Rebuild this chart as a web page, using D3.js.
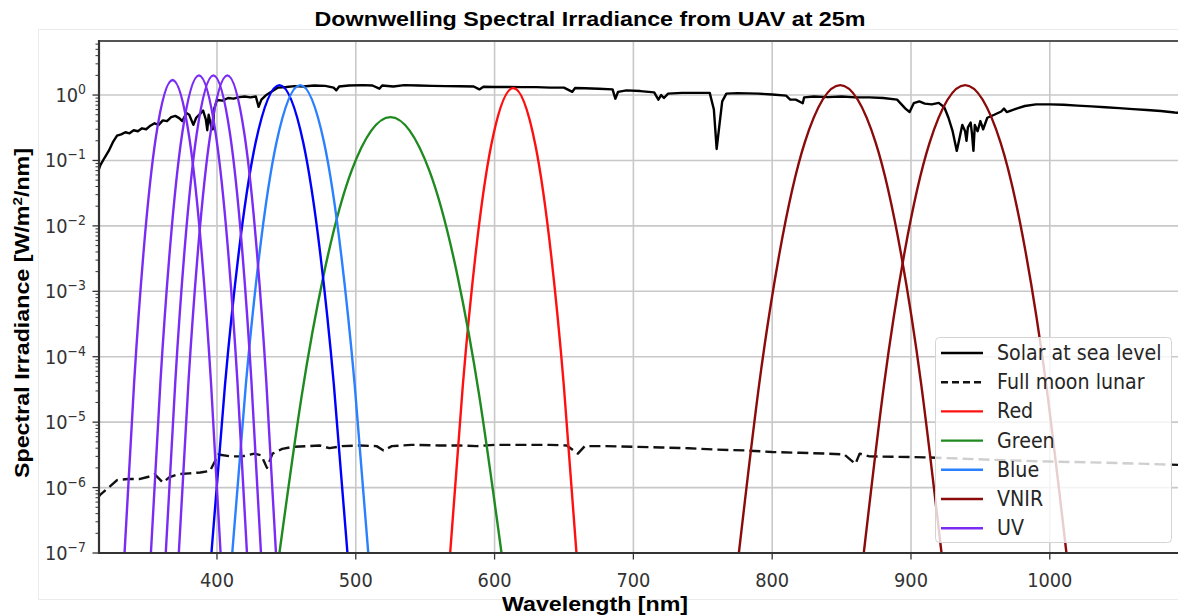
<!DOCTYPE html>
<html>
<head>
<meta charset="utf-8">
<script src="https://cdn.jsdelivr.net/npm/d3@7/dist/d3.min.js"></script>
<style>
	body { margin: 0; background: #fff; }
	svg { display: block; }
</style>
</head>
<body>
<svg id="chart" width="1178" height="615"></svg>
<script>
// wavelength tick values and log decades on the y axis
const xTicks = [400, 500, 600, 700, 800, 900, 1000];
const yDecades = [0, -1, -2, -3, -4, -5, -6, -7];
const legendNames = ["Solar at sea level", "Full moon lunar", "Red", "Green", "Blue", "VNIR", "UV"];

// [wavelength nm, irradiance W/m2/nm]
const solar = [
	[314, 0.065], [316, 0.085], [319, 0.11], [322, 0.14], [325, 0.19], [328, 0.24], [331, 0.25], [334, 0.27],
	[337, 0.26], [340, 0.29], [343, 0.28], [346, 0.31], [349, 0.30], [352, 0.34], [355, 0.37], [358, 0.35],
	[361, 0.41], [364, 0.40], [367, 0.46], [370, 0.48], [373, 0.44], [375, 0.40], [378, 0.53], [380, 0.50],
	[383, 0.35], [385, 0.45], [388, 0.52], [390, 0.58], [392, 0.42], [393, 0.29], [394, 0.50], [396, 0.32],
	[397, 0.30], [398, 0.62], [400, 0.84], [404, 0.82], [408, 0.90], [412, 0.88], [416, 0.93], [420, 0.95],
	[424, 0.92], [428, 0.95], [430, 0.66], [432, 0.85], [435, 0.98], [440, 1.15], [444, 1.30], [450, 1.33],
	[456, 1.37], [462, 1.35], [470, 1.40], [478, 1.38], [484, 1.30], [486, 1.18], [488, 1.35], [495, 1.40],
	[505, 1.42], [512, 1.40], [517, 1.25], [519, 1.40], [527, 1.35], [535, 1.42], [545, 1.40], [555, 1.38],
	[565, 1.37], [575, 1.36], [585, 1.35], [589, 1.22], [592, 1.34], [600, 1.33], [610, 1.33], [620, 1.32],
	[630, 1.32], [640, 1.30], [650, 1.30], [656, 1.12], [658, 1.28], [665, 1.27], [675, 1.25], [685, 1.22],
	[687, 0.88], [689, 1.12], [695, 1.18], [705, 1.15], [715, 1.10], [718, 0.85], [720, 1.00], [722, 0.90],
	[725, 1.05], [735, 1.08], [745, 1.08], [755, 1.08], [758, 0.60], [760, 0.15], [762, 0.35], [764, 0.80],
	[767, 1.05], [775, 1.07], [790, 1.05], [800, 1.02], [810, 0.98], [813, 0.85], [817, 0.85], [822, 0.75],
	[823, 0.92], [830, 0.95], [840, 0.93], [850, 0.95], [860, 0.92], [870, 0.92], [880, 0.90], [890, 0.85],
	[896, 0.62], [899, 0.55], [902, 0.75], [906, 0.80], [910, 0.74], [915, 0.72], [920, 0.76], [924, 0.65],
	[927, 0.45], [930, 0.28], [933, 0.14], [935, 0.22], [937, 0.35], [939, 0.28], [940, 0.20], [941, 0.32],
	[943, 0.38], [944, 0.25], [945, 0.14], [946, 0.35], [948, 0.28], [950, 0.40], [952, 0.30], [955, 0.45],
	[960, 0.50], [965, 0.56], [967, 0.62], [969, 0.55], [972, 0.58], [976, 0.62], [982, 0.68], [990, 0.72],
	[1000, 0.72], [1010, 0.71], [1020, 0.69], [1030, 0.67], [1040, 0.65], [1050, 0.63], [1060, 0.61],
	[1070, 0.59], [1080, 0.57], [1090, 0.54], [1100, 0.52]
];
const lunar = [
	[314, 7.0e-7], [316, 7.8e-7], [322, 1.0e-6], [328, 1.3e-6], [336, 1.35e-6], [344, 1.35e-6], [350, 1.45e-6],
	[355, 1.6e-6], [361, 1.2e-6], [366, 1.45e-6], [372, 1.6e-6], [380, 1.65e-6], [388, 1.7e-6], [395, 1.8e-6],
	[401, 3.2e-6], [410, 3.0e-6], [418, 3.0e-6], [427, 3.3e-6], [432, 3.1e-6], [436, 2.0e-6], [440, 3.3e-6],
	[447, 3.9e-6], [455, 4.2e-6], [465, 4.3e-6], [474, 4.4e-6], [481, 4.0e-6], [490, 4.3e-6], [503, 4.4e-6],
	[515, 4.3e-6], [520, 3.7e-6], [526, 4.3e-6], [540, 4.5e-6], [560, 4.4e-6], [575, 4.4e-6], [587, 4.3e-6],
	[600, 4.5e-6], [620, 4.5e-6], [640, 4.5e-6], [652, 4.4e-6], [660, 3.3e-6], [665, 4.3e-6], [680, 4.3e-6],
	[700, 4.2e-6], [720, 4.1e-6], [740, 4.0e-6], [760, 3.8e-6], [780, 3.7e-6], [800, 3.5e-6], [820, 3.4e-6],
	[840, 3.3e-6], [852, 3.2e-6], [858, 2.5e-6], [860, 2.3e-6], [863, 3.3e-6], [870, 3.0e-6], [890, 2.95e-6],
	[910, 2.9e-6], [930, 2.8e-6], [960, 2.65e-6], [1000, 2.5e-6], [1040, 2.4e-6], [1070, 2.3e-6], [1100, 2.2e-6]
];

// filter response curves
const red = [[568, 1e-7], [577.1, 3.6e-5], [586.2, 3.5e-3], [597.6, 0.172], [613.5, 1.28], [629.4, 0.172], [640.8, 3.5e-3], [649.9, 3.6e-5], [659, 1e-7]];
const green = [[445, 1e-7], [461, 2.5e-5], [477, 1.84e-3], [497, 0.070], [525, 0.46], [553, 0.070], [573, 1.84e-3], [589, 2.5e-5], [605, 1e-7]];
const blueDeep = [[396, 1e-7], [405.8, 3.75e-5], [415.6, 3.77e-3], [427.85, 0.188], [445, 1.42], [462.15, 0.188], [474.4, 3.77e-3], [484.2, 3.75e-5], [494, 1e-7]];
const blue = [[411, 1e-7], [420.8, 3.75e-5], [430.6, 3.77e-3], [442.85, 0.188], [460, 1.42], [477.15, 0.188], [489.4, 3.77e-3], [499.2, 3.75e-5], [509, 1e-7]];
const vnir1 = [[776, 1e-7], [790.6, 3.75e-5], [805.2, 3.77e-3], [823.45, 0.188], [849, 1.42], [874.55, 0.188], [892.8, 3.77e-3], [907.4, 3.75e-5], [922, 1e-7]];
const vnir2 = [[866, 1e-7], [880.6, 3.75e-5], [895.2, 3.77e-3], [913.45, 0.188], [939, 1.42], [964.55, 0.188], [982.8, 3.77e-3], [997.4, 3.75e-5], [1012, 1e-7]];
const uv1 = [[333.4, 1e-7], [340.3, 4.0e-5], [347.2, 4.24e-3], [355.9, 0.221], [368, 1.7], [380.1, 0.221], [388.8, 4.24e-3], [395.7, 4.0e-5], [402.6, 1e-7]];
const uv2 = [[352.4, 1e-7], [359.3, 4.25e-5], [366.2, 4.7e-3], [374.9, 0.255], [387, 2.0], [399.1, 0.255], [407.8, 4.7e-3], [414.7, 4.25e-5], [421.6, 1e-7]];
const uv3 = [[363.1, 1e-7], [370.0, 4.25e-5], [376.8, 4.7e-3], [385.4, 0.255], [397.4, 2.0], [409.4, 0.255], [418.0, 4.7e-3], [424.8, 4.25e-5], [431.7, 1e-7]];
const uv4 = [[372.5, 1e-7], [379.5, 4.25e-5], [386.5, 4.7e-3], [395.25, 0.255], [407.5, 2.0], [419.75, 0.255], [428.5, 4.7e-3], [435.5, 4.25e-5], [442.5, 1e-7]];

const Left = 99, Top = 41, Bottom = 553;
const squeeze = 0.89;  // the reference text is a bit narrow
const colors = {
	solar: "#000", lunar: "#111", red: "#ff1010", green: "#1f8a1f",
	blueDeep: "#0000ff", blue: "#2b80ff", vnir: "#8b0a0a", uv: "#7a2cf5"
};

const chart = d3.select("#chart");
const x = d3.scaleLinear().domain([315, 1100]).range([Left, Left + 785 * 1.388]);
const y = d3.scaleLog().domain([1e-7, 6.7]).range([Bottom, Top]);
const Right = x.range()[1];

// faint frame from the original screenshot
chart.append("rect").attr("x", 38.5).attr("y", 29.5).attr("width", 1200).attr("height", 570)
	.attr("fill", "none").attr("stroke", "#ececec");

// grid lines under everything
const grid = chart.append("g").attr("stroke", "#c8c8c8").attr("stroke-width", 1.6);
grid.selectAll("line.gx").data(xTicks).enter().append("line")
	.attr("x1", d => x(d)).attr("x2", d => x(d)).attr("y1", Top).attr("y2", Bottom);
grid.selectAll("line.gy").data(yDecades).enter().append("line")
	.attr("x1", Left).attr("x2", Right).attr("y1", d => y(Math.pow(10, d))).attr("y2", d => y(Math.pow(10, d)));

chart.append("defs").append("clipPath").attr("id", "plotclip").append("rect")
	.attr("x", Left).attr("y", Top).attr("width", Right - Left).attr("height", Bottom - Top);

const line = d3.line().x(d => x(d[0])).y(d => y(d[1]));
// natural spline keeps the filter bumps round like the originals
const smooth = d3.line().curve(d3.curveNatural).x(d => x(d[0])).y(d => y(d[1]));

// series in drawing order, styles kept apart from the values
const series = [
	{data: solar, color: colors.solar, gen: line, width: 2.4},
	{data: lunar, color: colors.lunar, gen: line, width: 2.4, dash: "11,5"},
	{data: red, color: colors.red, gen: smooth, width: 2.4},
	{data: green, color: colors.green, gen: smooth, width: 2.4},
	{data: blueDeep, color: colors.blueDeep, gen: smooth, width: 2.4},
	{data: blue, color: colors.blue, gen: smooth, width: 2.4},
	{data: vnir1, color: colors.vnir, gen: smooth, width: 2.4},
	{data: vnir2, color: colors.vnir, gen: smooth, width: 2.4},
	{data: uv1, color: colors.uv, gen: smooth, width: 2.4},
	{data: uv2, color: colors.uv, gen: smooth, width: 2.4},
	{data: uv3, color: colors.uv, gen: smooth, width: 2.4},
	{data: uv4, color: colors.uv, gen: smooth, width: 2.4}
];
chart.append("g").attr("clip-path", "url(#plotclip)").selectAll("path").data(series).enter().append("path")
	.attr("d", s => s.gen(s.data)).attr("fill", "none").attr("stroke", s => s.color)
	.attr("stroke-width", s => s.width).attr("stroke-dasharray", s => s.dash || null)
	.attr("stroke-linejoin", "round");

// y axis: major ticks per decade, minor ticks 2..9
const minor = [];
yDecades.forEach(e => { for(let m = 2; m <= 9; m++) if(m * Math.pow(10, e) <= 6.7) minor.push(m * Math.pow(10, e)); });
const yax = chart.append("g").attr("stroke", "#333");
yax.selectAll("line.minor").data(minor).enter().append("line")
	.attr("x1", Left - 3.5).attr("x2", Left).attr("y1", d => y(d)).attr("y2", d => y(d)).attr("stroke-width", 1);
yax.selectAll("line.major").data(yDecades).enter().append("line")
	.attr("x1", Left - 6.5).attr("x2", Left).attr("y1", d => y(Math.pow(10, d))).attr("y2", d => y(Math.pow(10, d))).attr("stroke-width", 1.3);
const ylab = chart.append("g").attr("font-family", "DejaVu Sans").attr("font-size", 20).attr("fill", "#333").attr("text-anchor", "end");
ylab.selectAll("text").data(yDecades).enter().append("text")
	.attr("transform", d => `translate(${Left - 13},${y(Math.pow(10, d)) + 7}) scale(${squeeze},1)`)
	.each(function(d) {
		const t = d3.select(this);
		t.append("tspan").text("10");
		t.append("tspan").attr("dy", -8).attr("font-size", 14).text(d === 0 ? "0" : "\u2212" + (-d));
	});

// x axis ticks and labels
chart.append("g").attr("stroke", "#333").selectAll("line").data(xTicks).enter().append("line")
	.attr("x1", d => x(d)).attr("x2", d => x(d)).attr("y1", Bottom).attr("y2", Bottom + 6.5).attr("stroke-width", 1.3);
chart.append("g").attr("font-family", "DejaVu Sans").attr("font-size", 20).attr("fill", "#333").attr("text-anchor", "middle")
	.selectAll("text").data(xTicks).enter().append("text")
	.attr("transform", d => `translate(${x(d)},${Bottom + 34}) scale(${squeeze},1)`).text(d => d);

// spines
chart.append("line").attr("x1", Left).attr("x2", Right).attr("y1", Top).attr("y2", Top).attr("stroke", "#555").attr("stroke-width", 2);
chart.append("line").attr("x1", Left).attr("x2", Left).attr("y1", Top - 1).attr("y2", Bottom + 1).attr("stroke", "#333").attr("stroke-width", 2.2);
chart.append("line").attr("x1", Left - 1).attr("x2", Right).attr("y1", Bottom).attr("y2", Bottom).attr("stroke", "#333").attr("stroke-width", 2.2);

// titles
chart.append("text").attr("x", 590).attr("y", 26).attr("text-anchor", "middle")
	.attr("font-family", "Liberation Sans, Arial").attr("font-weight", "bold").attr("font-size", 19.5)
	.attr("textLength", 551).attr("lengthAdjust", "spacingAndGlyphs")
	.text("Downwelling Spectral Irradiance from UAV at 25m");
chart.append("text").attr("x", 595).attr("y", 611).attr("text-anchor", "middle")
	.attr("font-family", "Liberation Sans, Arial").attr("font-weight", "bold").attr("font-size", 20)
	.attr("textLength", 186).attr("lengthAdjust", "spacingAndGlyphs")
	.text("Wavelength [nm]");
const yt = chart.append("text").attr("transform", "translate(29,313) rotate(-90)").attr("text-anchor", "middle")
	.attr("font-family", "Liberation Sans, Arial").attr("font-weight", "bold").attr("font-size", 20)
	.attr("textLength", 330).attr("lengthAdjust", "spacingAndGlyphs");
yt.append("tspan").text("Spectral Irradiance [W/m");
yt.append("tspan").attr("dy", -7).attr("font-size", 13).text("2");
yt.append("tspan").attr("dy", 7).text("/nm]");

// legend with a translucent box like matplotlib
const legendStyle = [
	{color: colors.solar}, {color: colors.lunar, dash: "7,4"}, {color: colors.red}, {color: colors.green},
	{color: colors.blue}, {color: colors.vnir}, {color: colors.uv}
];
const legend = chart.append("g").attr("transform", "translate(935,337)");
legend.append("rect").attr("x", 0.5).attr("y", 0.5).attr("width", 236).attr("height", 205).attr("rx", 4)
	.attr("fill", "#fff").attr("fill-opacity", 0.8).attr("stroke", "#d4d4d4");
const items = legend.selectAll("g.item").data(legendNames).enter().append("g")
	.attr("transform", (d, i) => `translate(0,${16 + i * 29.2})`);
items.append("line").attr("x1", 6).attr("x2", 48).attr("stroke-width", 2.4)
	.attr("stroke", (d, i) => legendStyle[i].color).attr("stroke-dasharray", (d, i) => legendStyle[i].dash || null);
items.append("text").attr("transform", `translate(62,7) scale(0.93,1)`)
	.attr("font-family", "DejaVu Sans").attr("font-size", 20.5).attr("fill", "#262626").text(d => d);
</script>
</body>
</html>
